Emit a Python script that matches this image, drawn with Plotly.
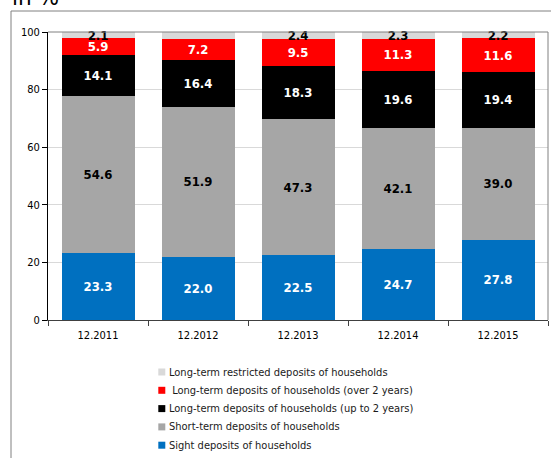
import plotly.graph_objects as go

# Structure of household deposits, shares in %
categories = ["12.2011", "12.2012", "12.2013", "12.2014", "12.2015"]
sight = [23.3, 22.0, 22.5, 24.7, 27.8]
short_term = [54.6, 51.9, 47.3, 42.1, 39.0]
long_upto2 = [14.1, 16.4, 18.3, 19.6, 19.4]
long_over2 = [5.9, 7.2, 9.5, 11.3, 11.6]
long_restricted = [2.1, 2.5, 2.4, 2.3, 2.2]

series_names = [
    "Sight deposits of households",
    "Short-term deposits of households",
    "Long-term deposits of households (up to 2 years)",
    " Long-term deposits of households (over 2 years)",
    "Long-term restricted deposits of households",
]
series_values = [sight, short_term, long_upto2, long_over2, long_restricted]
colors = ["#0070C0", "#A6A6A6", "#000000", "#FF0000", "#D9D9D9"]
label_colors = ["white", "black", "white", "white", "black"]

FONT = "DejaVu Sans Condensed, DejaVu Sans, sans-serif"

W, H = 551, 458
ML, MR, MT, MB = 48, 3, 32, 138
PW, PH = W - ML - MR, H - MT - MB


def px_x(px):
    return (px - ML) / PW


def px_y(py):
    return (H - MB - py) / PH


fig = go.Figure()
for name, vals, col, tcol in zip(series_names, series_values, colors, label_colors):
    fig.add_trace(go.Bar(
        x=categories, y=vals, name=name.strip(),
        marker=dict(color=col, line=dict(width=0)),
        width=0.73,
        texttemplate="%{y:.1f}",
        textposition="inside",
        insidetextanchor="middle",
        textangle=0,
        constraintext="none",
        cliponaxis=False,
        textfont=dict(family=FONT, size=13, color=tcol, weight="bold"),
        showlegend=False,
        hoverinfo="skip",
    ))

shapes = [
    # outer frame
    dict(type="rect", xref="paper", yref="paper",
         x0=px_x(11), x1=px_x(600), y0=px_y(600), y1=px_y(11),
         line=dict(color="#808080", width=1), fillcolor="rgba(0,0,0,0)", layer="below"),
    # plot border (top and right)
    dict(type="line", xref="paper", yref="paper", x0=0, x1=1, y0=1, y1=1,
         line=dict(color="#808080", width=1)),
    dict(type="line", xref="paper", yref="paper", x0=1, x1=1, y0=0, y1=1,
         line=dict(color="#808080", width=1)),
]

annotations = [
    dict(text="in %", xref="paper", yref="paper", x=px_x(10), y=px_y(13),
         xanchor="left", yanchor="bottom", showarrow=False,
         font=dict(family=FONT, size=24, color="black")),
]

# legend: top row is the last stacked series
legend_top = 372.0
legend_step = 18.3
for i, k in enumerate(reversed(range(len(series_names)))):
    cy = legend_top + i * legend_step
    shapes.append(dict(type="rect", xref="paper", yref="paper",
                       x0=px_x(158.3), x1=px_x(165.3), y0=px_y(cy + 3.5), y1=px_y(cy - 3.5),
                       fillcolor=colors[k], line=dict(width=0)))
    label = series_names[k]
    if label.startswith(" "):
        label = "&nbsp;" + label[1:]
    annotations.append(dict(text=label,
                            xref="paper", yref="paper", x=px_x(167), y=px_y(cy),
                            xanchor="left", yanchor="middle", showarrow=False,
                            font=dict(family=FONT, size=11, color="#1a1a1a")))

fig.update_layout(
    width=W, height=H,
    margin=dict(l=ML, r=MR, t=MT, b=MB, pad=0),
    barmode="stack",
    paper_bgcolor="white", plot_bgcolor="white",
    font=dict(family=FONT, size=11, color="black"),
    shapes=shapes,
    annotations=annotations,
    showlegend=False,
    xaxis=dict(
        showline=True, linecolor="#404040", linewidth=1,
        ticks="outside", ticklen=5, tickcolor="#404040", tickson="boundaries",
        ticklabelstandoff=5,
        showgrid=False, tickfont=dict(family=FONT, size=11),
    ),
    yaxis=dict(
        range=[0, 100], tickvals=[0, 20, 40, 60, 80, 100],
        showline=True, linecolor="black", linewidth=1,
        ticks="outside", ticklen=5, tickcolor="black",
        showgrid=True, gridcolor="#D9D9D9", gridwidth=1,
        zeroline=False, tickfont=dict(family=FONT, size=11),
    ),
)

fig.write_html("out.html")
